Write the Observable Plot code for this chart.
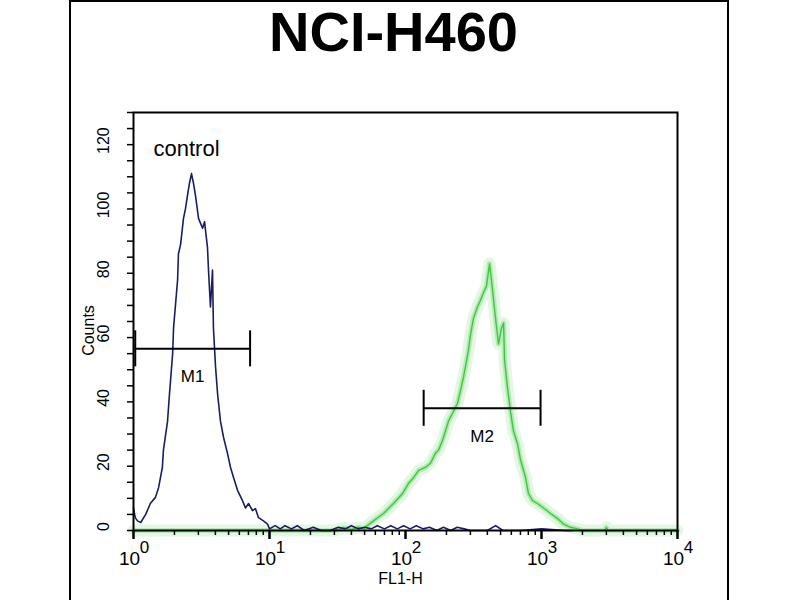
<!DOCTYPE html>
<html>
<head>
<meta charset="utf-8">
<script src="https://cdn.jsdelivr.net/npm/d3@7"></script>
<script src="https://cdn.jsdelivr.net/npm/@observablehq/plot@0.6"></script>
<style>
  html, body { margin: 0; padding: 0; background: #fff; }
  #wrap { position: relative; width: 800px; height: 600px; overflow: hidden; }
  #border { position: absolute; left: 69px; top: 0px; width: 656px; height: 640px; border: 2px solid #000; box-sizing: content-box; }
  #chart { position: absolute; left: 0; top: 0; }
</style>
</head>
<body>
<div id="wrap"><div id="border"></div><div id="chart"></div></div>
<script>
const titleText = "NCI-H460";
const xLabel = "FL1-H";
const yLabel = "Counts";
const controlLabel = "control";

// Control histogram (FL1 value, counts)
const controlFL1 = [1.00,1.03,1.07,1.13,1.23,1.33,1.45,1.53,1.63,1.66,1.78,1.84,1.94,1.97,2.04,2.11,2.14,2.22,2.33,2.41,2.49,2.58,2.67,2.76,2.86,3.01,3.22,3.33,3.50,3.56,3.68,3.81,3.87,4.01,4.15,4.36,4.59,4.91,5.17,5.44,5.82,6.33,6.66,7.01,7.50,7.89,8.30,9.03,9.67,10,11,12,13,14.5,16,18,21,24,28,32,36,40,45,50,56,62,70,78,87,97,108,120,135,150,170,190,215,240,270,300,400,460,520,700,1000,1500,1700];
const controlCounts = [7,4,3,2.5,5,8.4,10.3,13.4,19.6,25,34,42.6,55,63,70.6,78,86,89,97,100,104,108,111,108,104,97,94,96,88,81,69.5,81,63,51,42.6,34,29,24,19.6,16.5,12.5,9.3,7,8.4,6.2,6.8,4,3,2,0.5,1.5,0.5,1.5,0.5,1.5,0,1,0,0,1,0.5,1.5,0.5,1,0.5,1.5,0.5,1.5,0.5,1.5,0.5,1.5,0.5,1,0,1,0,1,0.5,0,0,1.5,0,0,0.5,0,0];

// Antibody-stained histogram (FL1 value, counts)
const greenFL1 = [1,30,35,40,45,49.1,58.2,68.9,81.6,95.1,105,115,125,140,153,166,175,187,197,207,225,241,254,267,276,290,301,316,338,356,375,394,415,436,459,483,508,526,535,562,592,622,666,701,763,802,859,935,1035,1165,1312,1452,1633,1841,2000,2900,3000,3100,10000];
const greenCounts = [0,0,0.8,0.3,1,0.6,3,5.3,8.4,11.5,14.6,16.5,18.7,19.6,21,24,25,28,31,34,37,39.5,43.6,47.7,51,56,61,66,69.5,71.6,74,76,83,75,66,58,63,64.5,53,44.5,37,31,27,22,16.5,11.5,9.3,8.4,7,5.3,3.7,2,1,0.5,0,0,1,0,0];

// Gate markers
const markerNames = ["M1", "M2"];
const markerStart = [1.03, 136];
const markerEnd = [7.2, 984];
const markerLevel = [56.5, 38];

// Ticks
const xMajor = [1, 10, 100, 1000, 10000];
const xExponent = ["0", "1", "2", "3", "4"];
const xMinor = [2,3,4,5,6,7,8,9,20,30,40,50,60,70,80,90,200,300,400,500,600,700,800,900,2000,3000,4000,5000,6000,7000,8000,9000];
const yMajor = [0, 20, 40, 60, 80, 100, 120];
const yMinor = [0,5,10,15,20,25,30,35,40,45,50,55,60,65,70,75,80,85,90,95,100,105,110,115,120,125,130];

const control = controlFL1.map((x, i) => ({x, y: controlCounts[i]}));
const green = greenFL1.map((x, i) => ({x, y: greenCounts[i]}));
const markers = markerNames.map((name, i) => ({name, start: markerStart[i], end: markerEnd[i], level: markerLevel[i]}));
const majors = xMajor.map((v, i) => ({v, e: xExponent[i]}));

const font = "'Liberation Sans', Arial, Helvetica, sans-serif";

const plot = Plot.plot({
  width: 800,
  height: 600,
  marginLeft: 133,
  marginRight: 123,
  marginTop: 112,
  marginBottom: 70,
  style: {fontFamily: font, background: "transparent", color: "#000"},
  x: {type: "log", domain: [1, 10000]},
  y: {domain: [0, 130]},
  marks: [
    // green histogram glow + line
    Plot.line(green, {x: "x", y: "y", stroke: "#8fe08f", strokeWidth: 12, strokeOpacity: 0.25, strokeLinejoin: "round"}),
    Plot.line(green, {x: "x", y: "y", stroke: "#7fd97f", strokeWidth: 5, strokeOpacity: 0.45, strokeLinejoin: "round"}),
    Plot.line(green, {x: "x", y: "y", stroke: "#40c640", strokeWidth: 1.4}),
    // control histogram
    Plot.line(control, {x: "x", y: "y", stroke: "#1a1d60", strokeWidth: 1.6}),
    // markers
    Plot.ruleY(markers, {y: "level", x1: "start", x2: "end", stroke: "#000", strokeWidth: 2}),
    Plot.ruleX(markers, {x: "start", y1: d => d.level - 5.6, y2: d => d.level + 5.6, stroke: "#000", strokeWidth: 2}),
    Plot.ruleX(markers, {x: "end", y1: d => d.level - 5.6, y2: d => d.level + 5.6, stroke: "#000", strokeWidth: 2}),
    Plot.text(markers, {x: d => Math.sqrt(d.start * d.end), y: "level", text: "name", dy: 28, lineAnchor: "middle", fontSize: 17, letterSpacing: "0.5px", fill: "#000"}),
    // frame
    Plot.frame({stroke: "#000", strokeWidth: 2}),
    // axes ticks
    Plot.axisY({ticks: yMinor, tickSize: 6, tickFormat: () => "", label: null, strokeWidth: 1.5}),
    Plot.axisX({ticks: xMinor, tickSize: 5, tickFormat: () => "", label: null, strokeWidth: 1.5}),
    Plot.axisX({ticks: xMajor, tickSize: 9, tickFormat: () => "", label: null, strokeWidth: 2.5}),
    // y tick labels (rotated)
    Plot.text(yMajor, {y: d => d, text: d => String(d), frameAnchor: "left", textAnchor: "middle", lineAnchor: "middle", dx: -30, dy: -4, rotate: -90, fontSize: 16, fill: "#000"}),
    // x tick labels 10^k
    Plot.text(majors, {x: "v", text: () => "10", frameAnchor: "bottom", lineAnchor: "middle", dy: 28, dx: -4, fontSize: 19, fill: "#000"}),
    Plot.text(majors, {x: "v", text: "e", frameAnchor: "bottom", lineAnchor: "middle", dy: 17, dx: 11, fontSize: 17, fill: "#000"}),
    // axis labels
    Plot.text([xLabel], {text: d => d, frameAnchor: "bottom", lineAnchor: "middle", dy: 48, dx: -5, fontSize: 16, fill: "#000"}),
    Plot.text([yLabel], {text: d => d, frameAnchor: "left", textAnchor: "middle", lineAnchor: "middle", dx: -45, dy: 9, rotate: -90, fontSize: 16, fill: "#000", letterSpacing: "1.5px"}),
    // control annotation
    Plot.text([controlLabel], {text: d => d, frameAnchor: "top-left", lineAnchor: "middle", dx: 20, dy: 36, textAnchor: "start", fontSize: 22, letterSpacing: "2px", fill: "#000"}),
    // title
    Plot.text([titleText], {text: d => d, frameAnchor: "top", lineAnchor: "middle", dy: -79, dx: -12, fontSize: 56, fontWeight: "bold", fill: "#000"})
  ]
});
document.getElementById("chart").appendChild(plot);
</script>
</body>
</html>
